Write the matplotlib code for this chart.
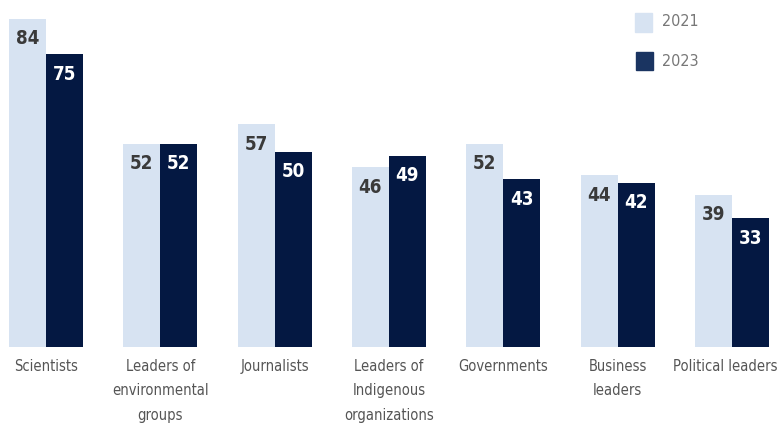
import matplotlib.pyplot as plt
import numpy as np

categories = ['Scientists', 'Leaders of\nenvironmental\ngroups', 'Journalists',
              'Leaders of\nIndigenous\norganizations', 'Governments',
              'Business\nleaders', 'Political leaders']
vals_2021 = [84, 52, 57, 46, 52, 44, 39]
vals_2023 = [75, 52, 50, 49, 43, 42, 33]

light = '#d7e3f2'
dark = '#041842'
fam = ['DejaVu Sans']
st = 'condensed'

fig = plt.figure(figsize=(7.79, 4.28), dpi=100)
ax = fig.add_axes([0, (428 - 347) / 428, 1, 347 / 428])

x = np.arange(len(categories))
w = 37 / 114.3
ax.bar(x - w / 2, vals_2021, w, color=light, edgecolor='none')
ax.bar(x + w / 2, vals_2023, w, color=dark, edgecolor='none')

xmax = (779 - 46) / 114.3
ax.set_xlim(-46 / 114.3, xmax)
ax.set_ylim(0, 347 / 3.905)

off = 20 / 3.905
for i in range(len(categories)):
    ax.text(x[i] - w / 2, vals_2021[i] - off, str(vals_2021[i]), ha='center', va='center',
            fontsize=13.5, fontweight='bold', color='#3a3a3a', family=fam, fontstretch=st)
    ax.text(x[i] + w / 2, vals_2023[i] - off, str(vals_2023[i]), ha='center', va='center',
            fontsize=13.5, fontweight='bold', color='white', family=fam, fontstretch=st)
    if i == len(categories) - 1:
        # keep the last label inside the figure
        ax.text(xmax - 0.015, -3.0, categories[i], ha='right', va='top', fontsize=10.5,
                color='#555555', family=fam, fontstretch=st, linespacing=1.8)
    else:
        ax.text(x[i], -3.0, categories[i], ha='center', va='top', fontsize=10.5,
                color='#555555', family=fam, fontstretch=st, linespacing=1.8)

ax.axis('off')

# legend drawn by hand to match placement
fig.patches.append(plt.Rectangle((635 / 779, 1 - 32 / 428), 17 / 779, 19 / 428,
                                 transform=fig.transFigure, color=light))
fig.patches.append(plt.Rectangle((636 / 779, 1 - 70 / 428), 17 / 779, 18 / 428,
                                 transform=fig.transFigure, color='#1a3461'))
fig.text(662 / 779, 1 - 22 / 428, '2021', ha='left', va='center', fontsize=11.5,
         color='#777777', family=fam, fontstretch=st)
fig.text(662 / 779, 1 - 61 / 428, '2023', ha='left', va='center', fontsize=11.5,
         color='#777777', family=fam, fontstretch=st)

fig.savefig('out.png', dpi=100)
